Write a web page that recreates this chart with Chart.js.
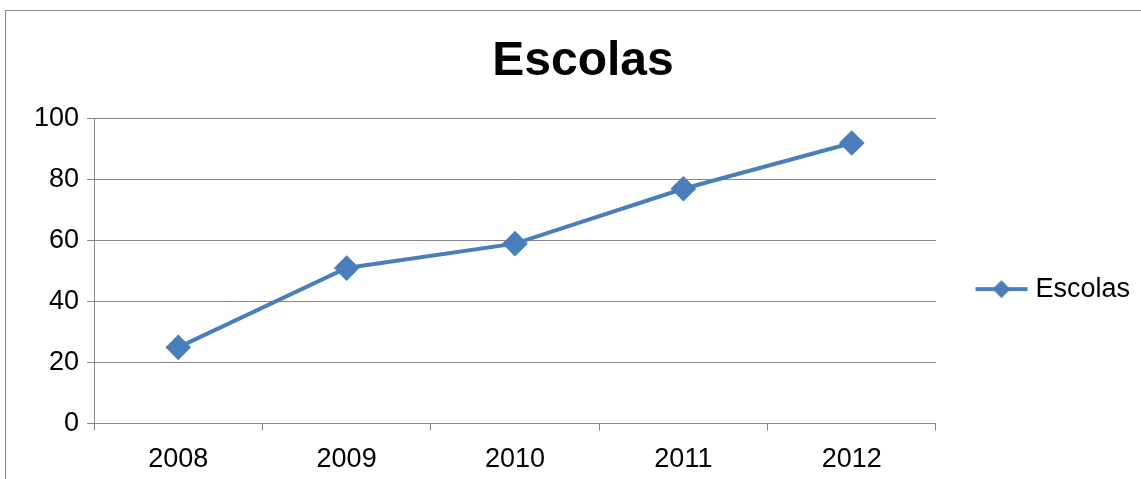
<!DOCTYPE html>
<html lang="pt">
<head>
    <meta charset="UTF-8">
    <title>Escolas</title>
    <script src="https://cdn.jsdelivr.net/npm/chart.js"></script>
    <style>
        html, body {
            margin: 0;
            padding: 0;
            background: #fff;
            overflow: hidden;
        }
        .frame {
            position: absolute;
            left: 5px;
            top: 10px;
            width: 1200px;
            height: 600px;
            border: 1px solid #8c8c8c;
        }
        .chart-box {
            position: absolute;
            left: 0;
            top: 0;
            width: 1141px;
            height: 489px;
        }
    </style>
</head>
<body>
    <div class="frame"></div>
    <div class="chart-box">
        <canvas id="escolasChart"></canvas>
    </div>

    <script>
        // chart data
        const anos = ['2008', '2009', '2010', '2011', '2012'];
        const escolas = [25, 51, 59, 77, 92];
        const serieNome = 'Escolas';

        const azul = '#4A7EBB';
        const fonte = 'Liberation Sans, Arial, sans-serif';

        // legend marker: line with a diamond in the middle
        const marker = document.createElement('canvas');
        marker.width = 54;
        marker.height = 22;
        const mctx = marker.getContext('2d');
        mctx.strokeStyle = azul;
        mctx.lineWidth = 4;
        mctx.beginPath();
        mctx.moveTo(1, 11);
        mctx.lineTo(53, 11);
        mctx.stroke();
        mctx.fillStyle = azul;
        mctx.beginPath();
        mctx.moveTo(27, 2);
        mctx.lineTo(36, 11);
        mctx.lineTo(27, 20);
        mctx.lineTo(18, 11);
        mctx.closePath();
        mctx.fill();

        const ctx = document.getElementById('escolasChart').getContext('2d');
        new Chart(ctx, {
            type: 'line',
            data: {
                labels: anos,
                datasets: [{
                    label: serieNome,
                    data: escolas,
                    borderColor: azul,
                    backgroundColor: azul,
                    borderWidth: 4,
                    pointStyle: 'rectRot',
                    pointRadius: 10,
                    pointHoverRadius: 10,
                    tension: 0
                }]
            },
            options: {
                responsive: true,
                maintainAspectRatio: false,
                animation: false,
                layout: {
                    padding: { left: 26, right: 1, top: 0, bottom: 0 }
                },
                plugins: {
                    title: {
                        display: true,
                        text: 'Escolas',
                        color: '#000',
                        font: { family: fonte, size: 48, weight: 'bold' },
                        padding: { top: 33, bottom: 28 }
                    },
                    legend: {
                        position: 'right',
                        fullSize: false,
                        title: {
                            display: true,
                            text: '',
                            font: { size: 10 },
                            padding: { top: 12, bottom: 12 }
                        },
                        labels: {
                            usePointStyle: true,
                            pointStyleWidth: 41,
                            color: '#000',
                            font: { family: fonte, size: 27 },
                            padding: 45,
                            generateLabels: function (chart) {
                                return chart.data.datasets.map(function (ds, i) {
                                    return {
                                        text: ds.label,
                                        fontColor: '#000',
                                        pointStyle: marker,
                                        fillStyle: azul,
                                        strokeStyle: azul,
                                        lineWidth: 0,
                                        datasetIndex: i,
                                        hidden: false
                                    };
                                });
                            }
                        }
                    },
                    tooltip: { enabled: false }
                },
                scales: {
                    x: {
                        offset: true,
                        grid: {
                            offset: true,
                            drawOnChartArea: false,
                            color: '#868686',
                            tickLength: 7
                        },
                        border: { color: '#868686' },
                        ticks: {
                            color: '#000',
                            font: { family: fonte, size: 27 },
                            padding: 13
                        }
                    },
                    y: {
                        min: 0,
                        max: 100,
                        grid: {
                            color: '#868686',
                            tickLength: 7
                        },
                        border: { color: '#868686' },
                        ticks: {
                            stepSize: 20,
                            color: '#000',
                            font: { family: fonte, size: 27 },
                            padding: 8
                        }
                    }
                }
            }
        });
    </script>
</body>
</html>
